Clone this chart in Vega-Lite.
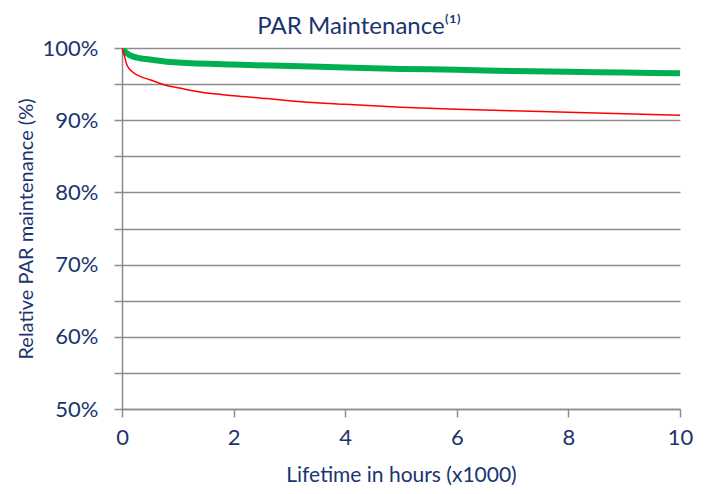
{
  "$schema": "https://vega.github.io/schema/vega-lite/v6.json",
  "width": 558,
  "height": 361,
  "autosize": {"type": "none"},
  "padding": {"left": 122, "top": 48, "right": 31, "bottom": 85},
  "background": "white",
  "config": {
    "font": "Lato",
    "view": {"stroke": null},
    "axis": {"domainColor": "#8c8c8c", "tickColor": "#8c8c8c", "gridColor": "#8c8c8c", "domainWidth": 1.5, "tickWidth": 1.5, "gridWidth": 1.5, "labelColor": "#1a3470", "titleColor": "#1a3470", "labelFont": "Lato", "titleFont": "Lato", "titleFontWeight": "normal"}
  },
  "title": {"text": "PAR Maintenance⁽¹⁾", "fontSize": 24, "fontWeight": "normal", "color": "#1a3470", "font": "Lato", "anchor": "middle", "dx": -42, "offset": -2},
  "data": {"values": [
    {"t": 0, "v": 100, "s": "green"},
    {"t": 0.05, "v": 99.5, "s": "green"},
    {"t": 0.2, "v": 98.8, "s": "green"},
    {"t": 0.5, "v": 98.4, "s": "green"},
    {"t": 0.8, "v": 98.1, "s": "green"},
    {"t": 1, "v": 98.0, "s": "green"},
    {"t": 2, "v": 97.7, "s": "green"},
    {"t": 3, "v": 97.5, "s": "green"},
    {"t": 4, "v": 97.3, "s": "green"},
    {"t": 5, "v": 97.1, "s": "green"},
    {"t": 6, "v": 97.0, "s": "green"},
    {"t": 7, "v": 96.8, "s": "green"},
    {"t": 8, "v": 96.7, "s": "green"},
    {"t": 9, "v": 96.6, "s": "green"},
    {"t": 10, "v": 96.5, "s": "green"},
    {"t": 0, "v": 100, "s": "red"},
    {"t": 0.04, "v": 99.0, "s": "red"},
    {"t": 0.09, "v": 97.6, "s": "red"},
    {"t": 0.2, "v": 96.6, "s": "red"},
    {"t": 0.35, "v": 96.0, "s": "red"},
    {"t": 0.5, "v": 95.6, "s": "red"},
    {"t": 0.8, "v": 94.8, "s": "red"},
    {"t": 1, "v": 94.5, "s": "red"},
    {"t": 1.4, "v": 93.9, "s": "red"},
    {"t": 2, "v": 93.4, "s": "red"},
    {"t": 2.6, "v": 93.0, "s": "red"},
    {"t": 3, "v": 92.7, "s": "red"},
    {"t": 4, "v": 92.2, "s": "red"},
    {"t": 5, "v": 91.8, "s": "red"},
    {"t": 6, "v": 91.5, "s": "red"},
    {"t": 7, "v": 91.3, "s": "red"},
    {"t": 8, "v": 91.1, "s": "red"},
    {"t": 9, "v": 90.9, "s": "red"},
    {"t": 10, "v": 90.7, "s": "red"}
  ]},
  "mark": {"type": "line", "interpolate": "monotone", "clip": true},
  "encoding": {
    "x": {"field": "t", "type": "quantitative", "scale": {"domain": [0, 10], "nice": false},
      "axis": {"values": [0, 2, 4, 6, 8, 10], "grid": false, "tickSize": 8, "labelFontSize": 22, "labelPadding": 10, "title": "Lifetime in hours (x1000)", "titleFontSize": 21, "titlePadding": 16, "labelFlush": false}},
    "y": {"field": "v", "type": "quantitative", "scale": {"domain": [50, 100], "nice": false, "zero": false},
      "axis": {"values": [50, 55, 60, 65, 70, 75, 80, 85, 90, 95, 100], "labelExpr": "datum.value % 10 == 0 ? datum.value + '%' : ''", "tickSize": 8, "labelFontSize": 22, "labelPadding": 16, "title": "Relative PAR maintenance (%)", "titleFontSize": 20, "titlePadding": 6}},
    "color": {"field": "s", "type": "nominal", "scale": {"domain": ["green", "red"], "range": ["#00b050", "#ff0000"]}, "legend": null},
    "strokeWidth": {"field": "s", "type": "nominal", "scale": {"domain": ["green", "red"], "range": [6, 1.5]}, "legend": null}
  }
}
